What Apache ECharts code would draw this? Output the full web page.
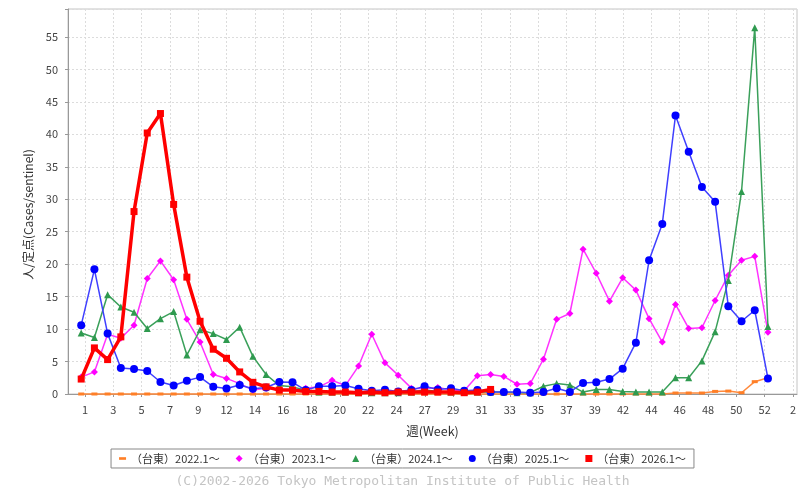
<!DOCTYPE html>
<html><head><meta charset="utf-8">
<script src="https://cdn.jsdelivr.net/npm/echarts@6/dist/echarts.min.js"></script>
<style>html,body{margin:0;padding:0;background:#fff}#c{width:805px;height:494px}</style>
</head><body><div id="c"></div>
<script>
const weeks = Array.from({length:53},(_, i)=>i+1);
const tickLabels = ['1','3','5','7','9','12','14','16','18','20','22','24','27','29','31','33','35','37','39','42','44','46','48','50','52','2'];
const seriesNames = ['（台東）2022.1～','（台東）2023.1～','（台東）2024.1～','（台東）2025.1～','（台東）2026.1～'];
const v2022 = [0,0,0,0,0,0,0,0,0,0,0,0,0,0,0,0,0,0,0,0,0,0,0,0,0,0,0,0,0,0,0,0,0,0,0,0,0,0,0,0,0,0,0,0,0,0.15,0.15,0.15,0.4,0.45,0.2,1.9,2.5];
const v2023 = [2.6,3.4,9.2,8.6,10.6,17.8,20.5,17.6,11.5,8.0,3.0,2.4,1.6,0.6,0.9,0.6,0.7,0.9,1.1,2.1,1.3,4.3,9.2,4.8,2.9,0.9,0.8,1.0,0.6,0.5,2.8,3.0,2.7,1.5,1.6,5.35,11.5,12.4,22.3,18.6,14.3,17.9,16.0,11.6,8.0,13.8,10.1,10.2,14.4,18.3,20.6,21.2,9.5];
const v2024 = [9.4,8.7,15.3,13.4,12.6,10.1,11.6,12.7,6.0,9.9,9.3,8.4,10.3,5.8,3.0,1.3,1.1,0.6,0.3,0.3,0.3,0.2,0.2,0.2,0.2,0.3,0.6,0.4,0.3,0.3,0.3,0.3,0.3,0.2,0.2,1.2,1.6,1.4,0.3,0.7,0.7,0.4,0.3,0.3,0.3,2.5,2.5,5.1,9.6,17.5,31.2,56.4,10.4];
const v2025 = [10.6,19.2,9.3,4.0,3.85,3.55,1.85,1.3,2.05,2.6,1.1,0.85,1.4,0.8,1.0,1.85,1.8,0.6,1.2,1.2,1.3,0.8,0.5,0.65,0.4,0.6,1.2,0.7,0.9,0.5,0.6,0.3,0.3,0.3,0.2,0.3,0.9,0.3,1.7,1.8,2.3,3.9,7.9,20.6,26.2,42.9,37.3,31.9,29.6,13.5,11.2,12.9,2.4];
const v2026 = [2.3,7.1,5.3,8.8,28.1,40.2,43.2,29.2,18.0,11.2,6.9,5.5,3.4,1.8,1.1,0.6,0.6,0.4,0.4,0.3,0.3,0.2,0.3,0.2,0.3,0.3,0.3,0.3,0.3,0.2,0.3,0.7];

const values = [v2022, v2023, v2024, v2025, v2026];
const colors = ['#ff7f27','#ff00ff','#2f9a4f','#0000ff','#ff0000'];
const symbols = ['rect','diamond','triangle','circle','rect'];
const symSizes = [[6,3],7,7,8,7];
const widths = [1.5,1.5,1.5,1.5,3.5];
const lineColors = ['#ff8a3d','#ff33ff','#3aa05a','#3f3fff','#ff0000'];
const legendIcons = ['path://M0,3h8v3h-8z','diamond','triangle','circle','rect'];

const font = '"Noto Sans CJK JP","Noto Sans",sans-serif';
const chart = echarts.init(document.getElementById('c'), null, {renderer:'canvas'});
chart.setOption({
  animation:false,
  backgroundColor:'#fff',
  grid:[
    {left:68, right:8, top:9, bottom:100, show:true, borderColor:'#c4c4c4', borderWidth:1, backgroundColor:'#fff'},
    {left:85, right:12, top:9, bottom:100, show:false}
  ],
  xAxis:[
    {type:'value', gridIndex:0, min:0, max:55.2, offset:4,
     axisLine:{show:true, lineStyle:{color:'#999', width:1}},
     axisTick:{show:false}, axisLabel:{show:false}, splitLine:{show:false},
     name:'週(Week)', nameLocation:'middle', nameGap:27,
     nameTextStyle:{fontFamily:font, fontSize:12.5, color:'#333'}},
    {type:'value', gridIndex:1, min:0, max:25, interval:1, offset:4,
     axisLine:{show:false},
     axisTick:{show:true, length:3, lineStyle:{color:'#999'}},
     axisLabel:{show:true, margin:6, fontFamily:font, fontSize:11, color:'#444',
       formatter:(v)=> (Number.isInteger(v) && tickLabels[v]!==undefined) ? tickLabels[v] : ''},
     splitLine:{show:true, lineStyle:{color:'#dcdcdc', type:[2,2], width:1}}}
  ],
  yAxis:[
    {type:'value', gridIndex:0, min:0, max:59.3, interval:5, offset:5,
     axisLine:{show:true, lineStyle:{color:'#999', width:1}},
     axisTick:{show:true, length:3, lineStyle:{color:'#999'}},
     axisLabel:{margin:5, fontFamily:font, fontSize:11, color:'#444',
       formatter:(v)=> (v%5===0) ? String(v) : ''},
     splitLine:{show:true, lineStyle:{color:'#dcdcdc', type:[2,2], width:1}},
     name:'人/定点(Cases/sentinel)', nameLocation:'middle', nameGap:28, nameRotate:90,
     nameTextStyle:{fontFamily:font, fontSize:12, color:'#333', padding:[0,26,0,0]}},
    {type:'value', gridIndex:1, min:0, max:1, show:false}
  ],
  legend:{
    left:'center', top:449, orient:'horizontal',
    borderColor:'#888', borderWidth:1, padding:[4,8],
    itemGap:16, itemWidth:7, itemHeight:7,
    textStyle:{fontFamily:font, fontSize:11, color:'#333'},
    data: seriesNames.map((n,i)=>({name:n, icon:legendIcons[i]}))
  },
  graphic:[{type:'text', left:'center', top:475,
    style:{text:'(C)2002-2026 Tokyo Metropolitan Institute of Public Health', fill:'#c4c4c4',
    font:'13px "DejaVu Sans Mono", monospace'}}],
  series: values.map((vals,i)=>({
    name:seriesNames[i], type:'line', xAxisIndex:0, yAxisIndex:0,
    data: vals.map((v,j)=>[weeks[j], v]),
    symbol:symbols[i], symbolSize:symSizes[i], showAllSymbol:true,
    itemStyle:{color:colors[i]},
    lineStyle:{color:lineColors[i], width:widths[i]},
    z: 2+i, clip:false
  }))
});
</script></body></html>
